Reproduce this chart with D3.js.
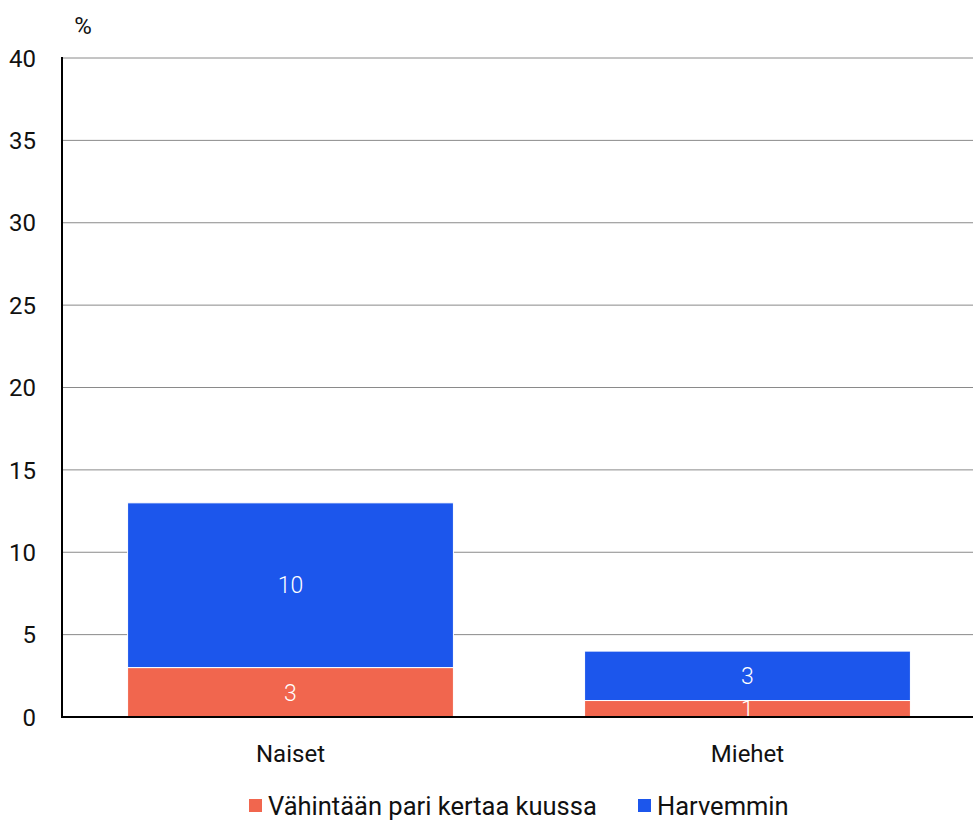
<!DOCTYPE html>
<html><head><meta charset="utf-8">
<script src="https://cdn.jsdelivr.net/npm/d3@7"></script>
<style>
body{margin:0;background:#fff;}
text{font-family:Roboto,"Noto Sans",sans-serif;}
</style></head>
<body><svg id="c" width="973" height="821"></svg>
<script>
const categories = ["Naiset", "Miehet"];
const seriesNames = ["Vähintään pari kertaa kuussa", "Harvemmin"];
const seriesColors = ["#F1664E", "#1C56EC"];
const valuesOften = [3, 1];
const valuesLess = [10, 3];
const yTicks = [0, 5, 10, 15, 20, 25, 30, 35, 40];
const unitLabel = "%";

const svg = d3.select("#c");
const m = {left: 62, right: 976, top: 58, bottom: 717};
const x = d3.scaleBand().domain(categories).range([m.left, m.right]).paddingInner(0.287).paddingOuter(0.1435);
const y = d3.scaleLinear().domain([0, 40]).range([m.bottom, m.top]);

// gridlines
svg.append("g").selectAll("line").data(yTicks.filter(d => d > 0)).join("line")
  .attr("x1", m.left).attr("x2", 973).attr("y1", d => y(d)).attr("y2", d => y(d))
  .attr("stroke", "#8a8a8a").attr("stroke-width", 1);

// y tick labels
svg.append("g").selectAll("text").data(yTicks).join("text")
  .attr("x", 36).attr("y", d => y(d)).attr("dy", "0.36em").attr("text-anchor", "end")
  .attr("font-size", 24).attr("fill", "#111").text(d => d);

svg.append("text").attr("x", 83).attr("y", 25).attr("dy", "0.36em").attr("text-anchor", "middle")
  .attr("font-size", 24).attr("fill", "#111").text(unitLabel);

// stacked data
const rows = categories.map((c, i) => ({cat: c, a: valuesOften[i], b: valuesLess[i]}));
const stack = d3.stack().keys(["a", "b"])(rows);

const g = svg.append("g");
stack.forEach((layer, li) => {
  g.append("g").selectAll("rect").data(layer).join("rect")
    .attr("x", d => x(d.data.cat)).attr("width", x.bandwidth())
    .attr("y", d => y(d[1])).attr("height", d => y(d[0]) - y(d[1]))
    .attr("fill", seriesColors[li]).attr("stroke", "#fff").attr("stroke-width", 1);
});
stack.forEach((layer, li) => {
  g.append("g").selectAll("text").data(layer).join("text")
    .attr("x", d => x(d.data.cat) + x.bandwidth() / 2)
    .attr("y", d => (y(d[0]) + y(d[1])) / 2).attr("dy", "0.36em")
    .attr("text-anchor", "middle").attr("font-size", 23).attr("font-weight", 300)
    .attr("fill", "#fff").text(d => d[1] - d[0]);
});

// axes lines
svg.append("line").attr("x1", m.left).attr("x2", m.left).attr("y1", m.top - 1).attr("y2", m.bottom + 1)
  .attr("stroke", "#000").attr("stroke-width", 2);
svg.append("line").attr("x1", m.left - 1).attr("x2", 973).attr("y1", m.bottom).attr("y2", m.bottom)
  .attr("stroke", "#000").attr("stroke-width", 2);

// category labels
svg.append("g").selectAll("text").data(categories).join("text")
  .attr("x", d => x(d) + x.bandwidth() / 2).attr("y", 753).attr("dy", "0.36em")
  .attr("text-anchor", "middle").attr("font-size", 24).attr("fill", "#111").text(d => d);

// legend
const legendX = [249, 638];
const lg = svg.append("g").selectAll("g").data(seriesNames).join("g")
  .attr("transform", (d, i) => `translate(${legendX[i]},806)`);
lg.append("rect").attr("x", 0).attr("y", -7).attr("width", 13).attr("height", 13)
  .attr("fill", (d, i) => seriesColors[i]);
lg.append("text").attr("x", 19).attr("y", 0).attr("dy", "0.36em")
  .attr("font-size", 25.5).attr("fill", "#111").text(d => d);
</script></body></html>
